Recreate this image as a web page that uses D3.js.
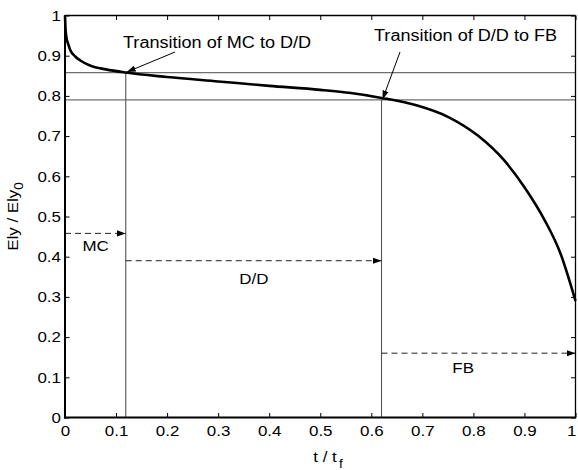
<!DOCTYPE html>
<html>
<head>
<meta charset="utf-8">
<script src="https://cdn.jsdelivr.net/npm/d3@7/dist/d3.min.js"></script>
<style>
  html, body { margin: 0; padding: 0; background: #fff; }
  svg { display: block; font-family: "Liberation Sans", Arial, Helvetica, sans-serif; }
</style>
</head>
<body>
<svg id="chart" width="578" height="470"></svg>
<script>
// Normalised stiffness Ely/Ely0 against normalised time t/tf
const timeRatio = [0, 0.001, 0.003, 0.006, 0.01, 0.02, 0.03, 0.05, 0.08, 0.119, 0.2, 0.3, 0.4, 0.5, 0.56, 0.62, 0.69, 0.75, 0.81, 0.86, 0.9, 0.94, 0.97, 1.0];
const stiffnessRatio = [1.0, 0.968, 0.944, 0.93, 0.915, 0.898, 0.888, 0.875, 0.866, 0.858, 0.847, 0.836, 0.825, 0.815, 0.807, 0.795, 0.776, 0.748, 0.70, 0.64, 0.573, 0.49, 0.41, 0.29];

// Regime transitions
const transitionT = [0.119, 0.62];
const transitionEly = [0.858, 0.79];
const transitionLabels = ["Transition of MC to D/D", "Transition of D/D to FB"];

// Damage regimes and their time spans
const regimeNames = ["MC", "D/D", "FB"];
const regimeStart = [0, 0.119, 0.62];
const regimeEnd = [0.119, 0.62, 1];
const regimeLevel = [0.458, 0.39, 0.16];

const xTickValues = [0, 0.1, 0.2, 0.3, 0.4, 0.5, 0.6, 0.7, 0.8, 0.9, 1];
const yTickValues = [0, 0.1, 0.2, 0.3, 0.4, 0.5, 0.6, 0.7, 0.8, 0.9, 1];

const svg = d3.select("#chart");
const SX = 1.13; // horizontal stretch of the lettering
const plotLeft = 65, plotRight = 575.5, plotTop = 15.5, plotBottom = 417.5;

const x = d3.scaleLinear().domain([0, 1]).range([plotLeft, plotRight]);
const y = d3.scaleLinear().domain([0, 1]).range([plotBottom, plotTop]);

const defs = svg.append("defs");
defs.append("marker")
  .attr("id", "head")
  .attr("viewBox", "0 0 10 10")
  .attr("refX", 10).attr("refY", 5)
  .attr("markerWidth", 9).attr("markerHeight", 9)
  .attr("markerUnits", "userSpaceOnUse")
  .attr("orient", "auto")
  .append("path")
  .attr("d", "M0,1.5 L10,5 L0,8.5 Z")
  .attr("fill", "#000");

// Reference lines at the transition stiffness levels
svg.selectAll("line.hline")
  .data(transitionEly)
  .join("line")
  .attr("class", "hline")
  .attr("x1", x(0)).attr("x2", x(1))
  .attr("y1", d => y(d)).attr("y2", d => y(d))
  .attr("stroke", "#6f6f6f").attr("stroke-width", 1.3);

// Vertical lines at the transition times
svg.selectAll("line.vline")
  .data(transitionT)
  .join("line")
  .attr("class", "vline")
  .attr("x1", d => x(d)).attr("x2", d => x(d))
  .attr("y1", y(0)).attr("y2", (d, i) => y(transitionEly[i]))
  .attr("stroke", "#555").attr("stroke-width", 1.1);

// Regime span arrows
svg.selectAll("line.span")
  .data(regimeNames)
  .join("line")
  .attr("class", "span")
  .attr("x1", (d, i) => x(regimeStart[i]))
  .attr("x2", (d, i) => x(regimeEnd[i]))
  .attr("y1", (d, i) => y(regimeLevel[i]))
  .attr("y2", (d, i) => y(regimeLevel[i]))
  .attr("stroke", "#222").attr("stroke-width", 1)
  .attr("stroke-dasharray", "6,4")
  .attr("marker-end", "url(#head)");

const regimeLabelT = [0.06, 0.37, 0.78];
const regimeLabelEly = [0.413, 0.332, 0.11];
svg.selectAll("text.regime")
  .data(regimeNames)
  .join("text")
  .attr("class", "regime")
  .attr("transform", (d, i) => `translate(${x(regimeLabelT[i])},${y(regimeLabelEly[i])}) scale(${SX},1)`)
  .attr("text-anchor", "middle")
  .attr("font-size", 15)
  .text(d => d);

// Stiffness degradation curve
const line = d3.line()
  .x((d, i) => x(timeRatio[i]))
  .y(d => y(d))
  .curve(d3.curveMonotoneX);
svg.append("path")
  .datum(stiffnessRatio)
  .attr("d", line)
  .attr("fill", "none")
  .attr("stroke", "#000")
  .attr("stroke-width", 2.6)
  .attr("stroke-linejoin", "round");

// Axes with inward ticks on all four sides
const fmt = d => String(d);
const gx = svg.append("g").attr("transform", `translate(0,${plotBottom})`)
  .call(d3.axisBottom(x).tickValues(xTickValues).tickFormat(fmt).tickSizeInner(-4.5).tickSizeOuter(0).tickPadding(8));
const gy = svg.append("g").attr("transform", `translate(${plotLeft},0)`)
  .call(d3.axisLeft(y).tickValues(yTickValues).tickFormat(fmt).tickSizeInner(-4.5).tickSizeOuter(0).tickPadding(4));
const gt = svg.append("g").attr("transform", `translate(0,${plotTop})`)
  .call(d3.axisTop(x).tickValues(xTickValues).tickFormat("").tickSizeInner(-4.5).tickSizeOuter(0));
const gr = svg.append("g").attr("transform", `translate(${plotRight},0)`)
  .call(d3.axisRight(y).tickValues(yTickValues).tickFormat("").tickSizeInner(-4.5).tickSizeOuter(0));

[gx, gy, gt, gr].forEach(g => {
  g.select(".domain").remove();
  g.selectAll(".tick line").attr("stroke", "#000").attr("stroke-width", 1);
  g.selectAll(".tick text")
    .attr("font-family", "Liberation Sans, Arial, sans-serif")
    .attr("font-size", 15)
    .attr("fill", "#000");
});
gx.selectAll(".tick text").attr("transform", `scale(${SX},1)`);
// keep the last label inside the window edge
gx.selectAll(".tick text").filter(d => d === 1).attr("text-anchor", "end").attr("x", 0.5 / SX);
gy.selectAll(".tick text").attr("x", -4 / SX).attr("transform", `scale(${SX},1)`);

// Frame
svg.append("line").attr("x1", plotLeft).attr("x2", plotRight).attr("y1", plotTop).attr("y2", plotTop)
  .attr("stroke", "#000").attr("stroke-width", 1.3);
svg.append("line").attr("x1", plotRight).attr("x2", plotRight).attr("y1", plotTop).attr("y2", plotBottom)
  .attr("stroke", "#000").attr("stroke-width", 1.3);
svg.append("line").attr("x1", plotLeft).attr("x2", plotLeft).attr("y1", plotTop - 0.6).attr("y2", plotBottom + 1)
  .attr("stroke", "#000").attr("stroke-width", 2);
svg.append("line").attr("x1", plotLeft - 1).attr("x2", plotRight + 0.6).attr("y1", plotBottom).attr("y2", plotBottom)
  .attr("stroke", "#000").attr("stroke-width", 2);

// Transition callouts
const calloutText = [[123, 47.5], [374, 40.7]];
const calloutFrom = [[175, 52], [400, 52]];
transitionLabels.forEach((label, i) => {
  svg.append("text")
    .attr("transform", `translate(${calloutText[i][0]},${calloutText[i][1]}) scale(${SX},1)`)
    .attr("font-size", 16)
    .text(label);
  svg.append("line")
    .attr("x1", calloutFrom[i][0]).attr("y1", calloutFrom[i][1])
    .attr("x2", x(transitionT[i]) + 1).attr("y2", y(transitionEly[i]) - 0.5)
    .attr("stroke", "#000").attr("stroke-width", 1)
    .attr("marker-end", "url(#head)");
});

// Axis titles
const xt = svg.append("text")
  .attr("transform", `translate(328,462) scale(${SX},1)`)
  .attr("text-anchor", "middle")
  .attr("font-size", 15);
xt.append("tspan").text("t / t");
xt.append("tspan").attr("font-size", 12).attr("dy", 6).attr("dx", 2).text("f");

const yt = svg.append("text")
  .attr("transform", `translate(18,${(plotTop + plotBottom) / 2}) rotate(-90) scale(${SX},1)`)
  .attr("text-anchor", "middle")
  .attr("font-size", 15);
yt.append("tspan").text("Ely / Ely");
yt.append("tspan").attr("font-size", 12).attr("dy", 5).text("0");
</script>
</body>
</html>
